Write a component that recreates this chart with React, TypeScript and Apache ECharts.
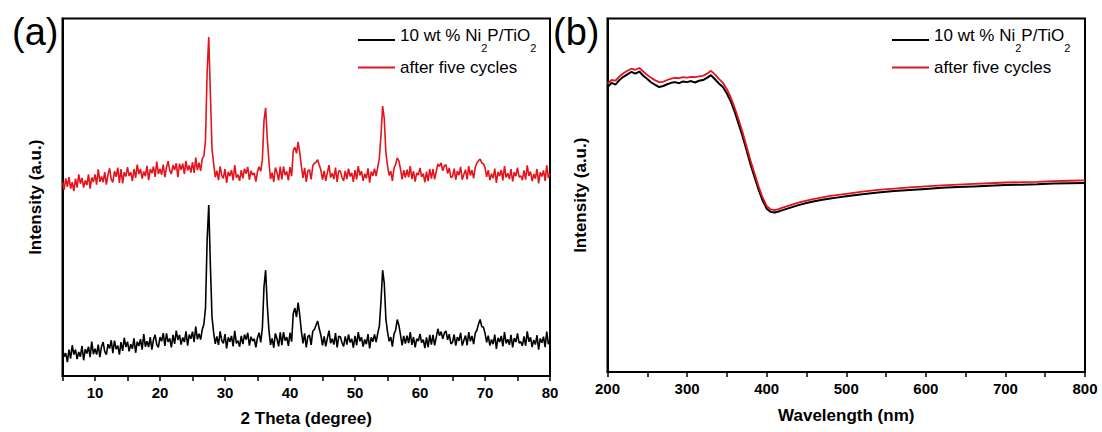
import React, { useEffect, useRef } from "react";
import * as echarts from "echarts";

const FONT = "'Liberation Sans', Arial, sans-serif";
const NAME_A = "10 wt % Ni2P/TiO2";
const NAME_B = "after five cycles";
const BLACK = "#000000";
const RED = "#e3141c";

// XRD: 2θ grid from 5° to 80° in 0.25° steps
const thetaStart = 5;
const thetaStep = 0.25;

// XRD intensity (a.u.), fresh 10 wt % Ni2P/TiO2 (4 values per degree)
const xrdFresh = [
  7.8, 5.4, 6.4, 3.9, 7.4, 4.9, 8.6, 6.0, 7.4, 4.7, 6.7, 5.4, 8.4, 4.4, 7.5, 6.3,
  8.2, 5.3, 9.6, 6.1, 7.6, 6.0, 8.8, 5.3, 8.2, 9.5, 6.8, 6.0, 8.9, 7.7, 10.0, 6.4,
  9.9, 7.5, 8.5, 6.0, 9.5, 7.0, 10.7, 8.1, 9.6, 6.9, 8.9, 7.6, 10.5, 6.5, 9.6, 8.4,
  10.3, 7.4, 11.7, 8.2, 9.7, 8.1, 10.9, 7.4, 10.2, 11.5, 8.8, 8.0, 10.9, 9.7, 12.0, 8.4,
  11.9, 9.5, 10.5, 8.0, 11.5, 9.0, 12.7, 10.1, 11.5, 8.8, 10.8, 9.5, 12.5, 8.5, 11.6, 10.4,
  12.4, 9.5, 13.8, 10.3, 11.8, 10.2, 13.0, 14.5, 19.0, 38.0, 47.8, 31.0, 16.5, 12.2, 9.0, 11.1,
  8.7, 12.5, 9.9, 9.1, 11.7, 7.7, 10.8, 9.6, 11.2, 8.3, 12.6, 9.1, 9.9, 8.2, 11.2, 8.9,
  11.6, 10.2, 12.1, 8.5, 11.0, 9.8, 10.4, 8.0, 10.8, 12.1, 9.4, 13.5, 25.0, 29.6, 20.0, 13.0,
  8.7, 10.5, 7.9, 11.9, 10.4, 8.3, 12.2, 8.6, 12.3, 9.9, 10.9, 8.4, 12.1, 9.6, 17.5, 19.0,
  16.5, 20.5, 17.0, 12.5, 9.1, 11.9, 8.0, 11.1, 11.4, 8.7, 12.5, 13.0, 14.2, 15.4, 13.2, 11.4,
  8.6, 11.1, 8.3, 10.6, 12.7, 9.2, 10.4, 8.8, 12.0, 8.0, 11.1, 11.0, 9.3, 8.3, 11.1, 8.8,
  11.6, 9.4, 10.4, 7.9, 11.2, 8.6, 12.3, 9.7, 10.9, 8.2, 10.2, 8.9, 11.7, 7.7, 10.8, 9.6,
  11.6, 9.5, 12.0, 14.0, 21.0, 29.6, 26.0, 16.0, 12.4, 9.7, 10.9, 8.2, 11.7, 12.8, 15.8, 14.2,
  11.5, 8.6, 11.2, 9.1, 11.3, 9.2, 12.3, 8.7, 10.9, 8.0, 10.4, 9.8, 11.8, 9.3, 10.2, 7.8,
  10.8, 8.1, 11.5, 8.8, 11.5, 8.6, 10.8, 13.2, 11.3, 12.4, 10.4, 12.0, 12.6, 10.1, 11.7, 9.0,
  9.4, 11.6, 8.5, 10.9, 9.8, 12.1, 8.5, 10.0, 11.3, 8.6, 12.3, 9.7, 11.2, 8.9, 12.0, 12.8,
  14.5, 15.8, 13.8, 13.7, 12.0, 9.4, 11.3, 8.5, 10.2, 8.9, 11.6, 7.6, 10.7, 9.5, 11.2, 8.3,
  12.3, 9.1, 10.3, 8.7, 11.5, 8.0, 10.6, 9.5, 11.9, 9.2, 9.6, 8.4, 11.1, 8.5, 12.5, 9.6,
  10.8, 8.1, 10.1, 8.8, 11.4, 7.4, 10.5, 9.3, 11.0, 8.1, 12.4, 8.9, 10.1,
];

// XRD intensity (a.u.), after five cycles (offset trace)
const xrdCycled = [
  54.2, 52.1, 55.3, 52.9, 55.6, 52.4, 54.2, 51.7, 55.2, 52.7, 56.4, 53.8, 55.4, 52.7, 54.7, 53.4,
  56.4, 52.4, 55.5, 54.3, 56.4, 53.5, 57.8, 54.3, 55.8, 54.2, 57.0, 53.5, 56.4, 58.1, 55.0, 54.2,
  57.3, 55.7, 58.3, 54.0, 57.9, 53.9, 57.0, 55.8, 58.4, 56.0, 57.0, 54.5, 57.9, 55.4, 59.1, 56.5,
  57.9, 55.2, 57.2, 55.9, 58.8, 54.8, 57.9, 56.7, 58.6, 55.7, 60.0, 56.5, 57.9, 56.3, 59.1, 55.6,
  58.4, 60.1, 57.5, 56.5, 59.0, 57.6, 59.5, 55.6, 59.4, 57.7, 59.4, 56.5, 60.2, 57.5, 58.9, 56.9,
  59.8, 56.8, 61.1, 57.6, 59.7, 57.4, 60.8, 61.5, 66.0, 85.0, 94.8, 79.0, 63.5, 59.5, 55.6, 57.4,
  54.8, 58.6, 56.1, 55.3, 57.9, 54.0, 57.1, 55.9, 57.6, 54.7, 59.0, 55.5, 56.3, 54.6, 57.6, 55.3,
  58.0, 56.6, 58.5, 54.9, 57.4, 56.2, 56.8, 54.4, 57.2, 58.5, 57.3, 60.5, 71.5, 75.0, 66.5, 60.2,
  55.1, 56.9, 54.3, 58.3, 56.8, 54.7, 58.6, 55.0, 58.6, 56.2, 57.2, 54.7, 58.4, 55.9, 63.0, 64.0,
  62.3, 65.5, 62.5, 58.7, 55.4, 58.2, 54.3, 57.4, 57.7, 55.0, 58.8, 59.5, 59.8, 60.5, 59.0, 57.6,
  54.9, 57.4, 54.6, 56.9, 59.0, 55.5, 56.7, 55.1, 58.3, 54.3, 57.4, 57.3, 55.6, 54.6, 57.4, 55.1,
  58.0, 55.8, 56.8, 54.3, 57.6, 55.0, 58.7, 56.1, 57.3, 54.6, 56.6, 55.3, 58.1, 54.1, 57.2, 56.0,
  58.0, 55.9, 58.4, 61.0, 67.5, 75.5, 72.0, 62.5, 58.8, 56.1, 57.3, 54.6, 58.1, 59.2, 61.0, 60.2,
  57.9, 55.0, 57.6, 55.5, 57.7, 55.6, 58.7, 55.1, 57.3, 54.4, 56.8, 56.2, 58.2, 55.7, 56.6, 54.2,
  57.2, 54.5, 57.9, 55.2, 57.9, 55.0, 57.2, 59.3, 58.6, 59.6, 57.4, 58.8, 59.1, 56.6, 58.2, 55.5,
  55.8, 58.0, 54.9, 57.3, 56.2, 58.5, 54.9, 56.4, 57.7, 55.0, 58.7, 56.1, 57.6, 55.3, 58.4, 59.6,
  60.2, 60.7, 59.6, 59.4, 58.3, 55.7, 57.6, 54.8, 56.6, 55.3, 58.0, 54.0, 57.1, 55.9, 57.6, 54.7,
  58.7, 55.5, 56.7, 55.1, 57.9, 54.4, 57.0, 55.9, 58.3, 55.6, 56.0, 54.8, 57.5, 54.9, 58.9, 56.0,
  57.2, 54.5, 56.5, 55.2, 57.9, 53.9, 57.0, 55.8, 57.5, 54.6, 58.9, 55.4, 56.6,
];

// UV-vis: wavelengths (nm)
const wavelengths = [
  200, 205, 210, 215, 220, 225, 230, 235, 240, 245, 250, 255, 260, 265, 270, 275, 280, 285, 290, 295,
  300, 305, 310, 315, 320, 325, 330, 335, 340, 345, 350, 355, 360, 365, 370, 375, 380, 385, 390, 395,
  400, 405, 410, 415, 420, 430, 440, 450, 460, 470, 480, 490, 500, 520, 540, 560, 580, 600, 620, 640,
  660, 680, 700, 720, 740, 760, 780, 800,
];
const uvFresh = [
  80.5, 81.8, 81.3, 82.6, 83.5, 84.2, 84.9, 84.4, 85.0, 83.8, 82.9, 81.9, 81.2, 80.6, 80.9, 81.4, 81.8, 82.0, 81.7, 82.2,
  82.0, 82.3, 81.9, 82.4, 82.6, 83.2, 84.0, 82.8, 81.6, 80.6, 78.8, 76.5, 73.5, 70.0, 66.5, 62.5, 58.5, 55.0, 51.5, 48.5,
  46.2, 45.3, 45.1, 45.4, 45.8, 46.5, 47.2, 47.8, 48.3, 48.7, 49.1, 49.4, 49.7, 50.3, 50.8, 51.2, 51.5, 51.8, 52.1, 52.3,
  52.5, 52.7, 52.9, 53.0, 53.1, 53.3, 53.4, 53.5,
];
const uvCycled = [
  81.5, 82.6, 82.4, 83.6, 84.5, 85.2, 85.8, 85.5, 86.0, 85.0, 84.0, 83.2, 82.5, 82.0, 82.1, 82.6, 83.0, 83.2, 83.1, 83.4,
  83.3, 83.5, 83.4, 83.6, 83.8, 84.4, 85.2, 84.2, 82.9, 81.8, 80.0, 77.6, 74.6, 71.2, 67.6, 63.6, 59.6, 56.0, 52.4, 49.3,
  47.0, 46.0, 45.8, 46.1, 46.5, 47.2, 47.9, 48.5, 49.0, 49.4, 49.8, 50.1, 50.4, 51.0, 51.5, 51.9, 52.2, 52.5, 52.8, 53.0,
  53.2, 53.4, 53.6, 53.7, 53.8, 54.0, 54.1, 54.2,
];

const xrdPairs = (vals: number[]) => vals.map((v, i) => [thetaStart + i * thetaStep, v]);
const uvPairs = (vals: number[]) => vals.map((v, i) => [wavelengths[i], v]);

const legendFormatter = (name: string) =>
  name === NAME_A ? "{n|10 wt % Ni}{s|2}{n|P/TiO}{s|2}" : "{n|after five cycles}";

const legendRich = {
  n: { fontSize: 17, lineHeight: 17, verticalAlign: "top", fontFamily: FONT, color: "#000" },
  s: { fontSize: 11, lineHeight: 26, verticalAlign: "bottom", fontFamily: FONT, color: "#000" },
};

const makeLegend = (left: number) => ({
  left,
  top: 27,
  padding: 0,
  orient: "vertical",
  icon: "rect",
  itemWidth: 37,
  itemHeight: 2,
  itemGap: 6,
  data: [NAME_A, NAME_B],
  formatter: legendFormatter,
  textStyle: { rich: legendRich, fontFamily: FONT, fontSize: 17, color: "#000" },
  selectedMode: false,
});

const axisNameStyle = { fontFamily: FONT, fontSize: 17, fontWeight: "bold", color: "#000" };
const axisLabelStyle = { fontFamily: FONT, fontSize: 15, fontWeight: "bold", color: "#000" };

const makeXAxis = (gridIndex: number, min: number, max: number, interval: number, labelEvery: number, name: string, nameGap: number) => ({
  type: "value",
  gridIndex,
  min,
  max,
  interval,
  name,
  nameLocation: "middle",
  nameGap,
  nameTextStyle: axisNameStyle,
  axisLine: { show: true, lineStyle: { color: "#000", width: 2 } },
  axisTick: { show: true, inside: false, length: 5, lineStyle: { color: "#000", width: 1.5 } },
  axisLabel: {
    ...axisLabelStyle,
    margin: 9,
    formatter: (v: number) => (v % labelEvery === 0 ? String(v) : ""),
  },
  splitLine: { show: false },
});

const makeYAxis = (gridIndex: number) => ({
  type: "value",
  gridIndex,
  min: 0,
  max: 100,
  name: "Intensity (a.u.)",
  nameLocation: "middle",
  nameGap: 19,
  nameTextStyle: axisNameStyle,
  axisLine: { show: true, lineStyle: { color: "#000", width: 2 } },
  axisTick: { show: false },
  axisLabel: { show: false },
  splitLine: { show: false },
});

export default function App() {
  const ref = useRef<HTMLDivElement>(null);
  useEffect(() => {
    const chart = echarts.init(ref.current as HTMLDivElement, undefined, { renderer: "svg" });
    const option = {
      animation: false,
      backgroundColor: "#ffffff",
      textStyle: { fontFamily: FONT },
      grid: [
        { left: 62.5, top: 18.5, width: 487.5, height: 357.5, show: true, borderColor: "#000", borderWidth: 2 },
        { left: 607.5, top: 18.5, width: 477.5, height: 353.5, show: true, borderColor: "#000", borderWidth: 2 },
      ],
      xAxis: [
        makeXAxis(0, 5, 80, 5, 10, "2 Theta (degree)", 34),
        makeXAxis(1, 200, 800, 50, 100, "Wavelength (nm)", 35),
      ],
      yAxis: [makeYAxis(0), makeYAxis(1)],
      legend: [makeLegend(358), makeLegend(892)],
      graphic: [
        { type: "text", left: 12, top: 13, style: { text: "(a)", fontSize: 38, fontFamily: FONT, fill: "#000" } },
        { type: "text", left: 553, top: 13, style: { text: "(b)", fontSize: 38, fontFamily: FONT, fill: "#000" } },
      ],
      series: [
        {
          name: NAME_A, type: "line", xAxisIndex: 0, yAxisIndex: 0, data: xrdPairs(xrdFresh),
          showSymbol: false, symbol: "none", color: BLACK, lineStyle: { color: BLACK, width: 1.6 },
        },
        {
          name: NAME_B, type: "line", xAxisIndex: 0, yAxisIndex: 0, data: xrdPairs(xrdCycled),
          showSymbol: false, symbol: "none", color: RED, lineStyle: { color: RED, width: 1.6 },
        },
        {
          name: NAME_A, type: "line", xAxisIndex: 1, yAxisIndex: 1, data: uvPairs(uvFresh),
          showSymbol: false, symbol: "none", color: BLACK, lineStyle: { color: BLACK, width: 2 },
        },
        {
          name: NAME_B, type: "line", xAxisIndex: 1, yAxisIndex: 1, data: uvPairs(uvCycled),
          showSymbol: false, symbol: "none", color: RED, lineStyle: { color: RED, width: 1.8 },
        },
      ],
    };
    chart.setOption(option as any);
    return () => chart.dispose();
  }, []);
  return (
    <div
      ref={ref}
      style={{ position: "absolute", left: 0, top: 0, width: 1102, height: 432, background: "#fff" }}
    />
  );
}
